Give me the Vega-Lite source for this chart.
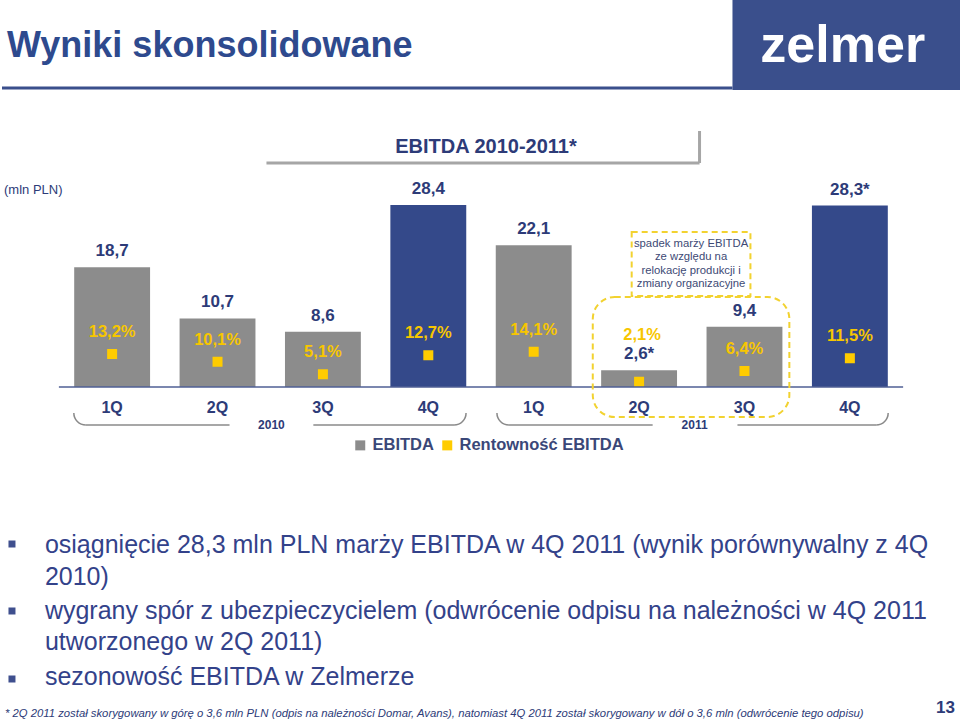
{
  "$schema": "https://vega.github.io/schema/vega-lite/v6.json",
  "width": 960,
  "height": 724,
  "autosize": {"type": "fit", "contains": "padding"},
  "padding": 0,
  "background": "white",
  "config": {"view": {"stroke": null}, "font": "Liberation Sans"},
  "data": {
    "values": [
      {"period": "1Q 2010", "year": "2010", "quarter": "1Q", "ebitda": 18.7, "margin": 0.132, "note": ""},
      {"period": "2Q 2010", "year": "2010", "quarter": "2Q", "ebitda": 10.7, "margin": 0.101, "note": ""},
      {"period": "3Q 2010", "year": "2010", "quarter": "3Q", "ebitda": 8.6, "margin": 0.051, "note": ""},
      {"period": "4Q 2010", "year": "2010", "quarter": "4Q", "ebitda": 28.4, "margin": 0.127, "note": ""},
      {"period": "1Q 2011", "year": "2011", "quarter": "1Q", "ebitda": 22.1, "margin": 0.141, "note": ""},
      {"period": "2Q 2011", "year": "2011", "quarter": "2Q", "ebitda": 2.6, "margin": 0.021, "note": "*"},
      {"period": "3Q 2011", "year": "2011", "quarter": "3Q", "ebitda": 9.4, "margin": 0.064, "note": ""},
      {"period": "4Q 2011", "year": "2011", "quarter": "4Q", "ebitda": 28.3, "margin": 0.115, "note": "*"}
    ]
  },
  "layer": [
    {
      "encoding": {
        "x": {"field": "period", "type": "nominal", "sort": null, "axis": null, "scale": {"type": "band", "paddingInner": 0.28, "paddingOuter": 0.685}}
      },
      "layer": [
        {
          "mark": {"type": "bar"},
          "encoding": {
            "y": {"field": "ebitda", "type": "quantitative", "axis": null, "scale": {"domain": [-52.574, 60.374], "nice": false, "zero": false}},
            "y2": {"datum": 0},
            "color": {
              "datum": "EBITDA",
              "condition": {"test": "datum.quarter === '4Q'", "value": "#34498a"},
              "scale": {"domain": ["EBITDA", "Rentowność EBITDA"], "range": ["#8c8c8c", "#ffcc00"]},
              "legend": {
                "orient": "none", "legendX": 350, "legendY": 437, "direction": "horizontal",
                "title": null, "symbolType": "square", "symbolSize": 100, "symbolStrokeWidth": 0, "symbolOpacity": 1,
                "labelFont": "Liberation Sans", "labelFontSize": 16.5, "labelFontWeight": "bold", "labelColor": "#3a4778",
                "labelOffset": 4, "labelLimit": 400, "columnPadding": 5, "padding": 0
              }
            }
          }
        },
        {
          "mark": {"type": "text", "baseline": "alphabetic", "align": "center", "dy": -11, "fontSize": 17, "fontWeight": "bold", "fill": "#2d3b78",
            "text": {"expr": "replace(format(datum.ebitda, '.1f'), '.', ',') + datum.note"}},
          "encoding": {"y": {"field": "ebitda", "type": "quantitative"}}
        },
        {
          "mark": {"type": "text", "baseline": "alphabetic", "align": "center", "dy": 26.5, "fontSize": 16, "fontWeight": "bold", "fill": "#2d3b78"},
          "encoding": {"y": {"datum": 0, "type": "quantitative"}, "text": {"field": "quarter"}}
        }
      ]
    },
    {
      "encoding": {
        "x": {"field": "period", "type": "nominal", "sort": null, "axis": null, "scale": {"type": "band", "paddingInner": 0.28, "paddingOuter": 0.685}},
        "y": {"field": "margin", "type": "quantitative", "axis": null, "scale": {"domain": [-1.348, 1.548], "nice": false, "zero": false}}
      },
      "layer": [
        {
          "mark": {"type": "point", "shape": "square", "filled": true, "size": 100, "opacity": 1, "strokeWidth": 0},
          "encoding": {"color": {"datum": "Rentowność EBITDA"}}
        },
        {
          "transform": [{"filter": "datum.period !== '2Q 2011'"}],
          "mark": {"type": "text", "baseline": "alphabetic", "align": "center", "dy": -17, "fontSize": 16.5, "fontWeight": "bold", "fill": "#f7c600",
            "text": {"expr": "replace(format(datum.margin * 100, '.1f'), '.', ',') + '%'"}}
        },
        {
          "transform": [{"filter": "datum.period === '2Q 2011'"}],
          "mark": {"type": "text", "baseline": "alphabetic", "align": "center", "dy": -42, "dx": 3, "fontSize": 16.5, "fontWeight": "bold", "fill": "#f7c600",
            "text": {"expr": "replace(format(datum.margin * 100, '.1f'), '.', ',') + '%'"}}
        }
      ]
    },
    {
      "data": {"values": [{}]},
      "layer": [
        {
          "mark": {"type": "rect", "fill": "#3a4f8c"},
          "encoding": {
            "x": {"datum": 6.8858, "type": "quantitative", "axis": null, "scale": {"domain": [-0.04536, 9.04469], "nice": false, "zero": false}},
            "x2": {"datum": 9.04469},
            "y": {"datum": 60.374, "type": "quantitative", "axis": null, "scale": {"domain": [-52.574, 60.374], "nice": false, "zero": false}},
            "y2": {"datum": 46.334}
          }
        },
        {
          "mark": {"type": "text", "text": "zelmer", "fill": "#ffffff", "font": "Liberation Sans", "fontSize": 52, "fontWeight": "bold", "align": "center", "baseline": "alphabetic"},
          "encoding": {"x": {"datum": 7.9321, "type": "quantitative"}, "y": {"datum": 50.702, "type": "quantitative"}}
        },
        {
          "mark": {"type": "text", "text": "Wyniki skonsolidowane", "fill": "#2e4a8e", "fontSize": 36, "fontWeight": "bold", "align": "left", "baseline": "alphabetic"},
          "encoding": {"x": {"datum": 0.002, "type": "quantitative"}, "y": {"datum": 51.482, "type": "quantitative"}}
        },
        {
          "mark": {"type": "rule", "stroke": "#3a4f8c", "strokeWidth": 3},
          "encoding": {"x": {"datum": -0.04536, "type": "quantitative"}, "x2": {"datum": 6.8858}, "y": {"datum": 46.646, "type": "quantitative"}}
        },
        {
          "mark": {"type": "text", "text": "EBITDA 2010-2011*", "fill": "#2d3b78", "fontSize": 20, "fontWeight": "bold", "align": "center", "baseline": "middle"},
          "encoding": {"x": {"datum": 4.547, "type": "quantitative"}, "y": {"datum": 37.441, "type": "quantitative"}}
        },
        {
          "mark": {"type": "rule", "stroke": "#a6a6a6", "strokeWidth": 3},
          "encoding": {"x": {"datum": 2.4639, "type": "quantitative"}, "x2": {"datum": 6.5733}, "y": {"datum": 34.945, "type": "quantitative"}}
        },
        {
          "mark": {"type": "rule", "stroke": "#a6a6a6", "strokeWidth": 3},
          "encoding": {"x": {"datum": 6.5733, "type": "quantitative"}, "y": {"datum": 39.938, "type": "quantitative"}, "y2": {"datum": 34.945}}
        },
        {
          "mark": {"type": "text", "text": "(mln PLN)", "fill": "#2d3b78", "fontSize": 13, "align": "left", "baseline": "middle"},
          "encoding": {"x": {"datum": -0.0264, "type": "quantitative"}, "y": {"datum": 30.733, "type": "quantitative"}}
        },
        {
          "mark": {"type": "rule", "stroke": "#4f5f94", "strokeWidth": 1.5},
          "encoding": {"x": {"datum": 0.4944, "type": "quantitative"}, "x2": {"datum": 8.505}, "y": {"datum": 0, "type": "quantitative"}}
        },
        {
          "mark": {"type": "text", "text": "2010", "fill": "#2d3b78", "fontSize": 12, "fontWeight": "bold", "align": "center", "baseline": "middle"},
          "encoding": {"x": {"datum": 2.5112, "type": "quantitative"}, "y": {"datum": -5.928, "type": "quantitative"}}
        },
        {
          "mark": {"type": "text", "text": "2011", "fill": "#2d3b78", "fontSize": 12, "fontWeight": "bold", "align": "center", "baseline": "middle"},
          "encoding": {"x": {"datum": 6.526, "type": "quantitative"}, "y": {"datum": -5.928, "type": "quantitative"}}
        },
        {
          "mark": {"type": "rule", "stroke": "#8a8a8a", "strokeWidth": 1.5},
          "encoding": {"x": {"datum": 0.75, "type": "quantitative"}, "x2": {"datum": 2.1135}, "y": {"datum": -5.928, "type": "quantitative"}}
        },
        {
          "mark": {"type": "rule", "stroke": "#8a8a8a", "strokeWidth": 1.5},
          "encoding": {"x": {"datum": 2.9089, "type": "quantitative"}, "x2": {"datum": 4.244}, "y": {"datum": -5.928, "type": "quantitative"}}
        },
        {
          "mark": {"type": "rule", "stroke": "#8a8a8a", "strokeWidth": 1.5},
          "encoding": {"x": {"datum": 4.7648, "type": "quantitative"}, "x2": {"datum": 6.1283}, "y": {"datum": -5.928, "type": "quantitative"}}
        },
        {
          "mark": {"type": "rule", "stroke": "#8a8a8a", "strokeWidth": 1.5},
          "encoding": {"x": {"datum": 6.9332, "type": "quantitative"}, "x2": {"datum": 8.2493}, "y": {"datum": -5.928, "type": "quantitative"}}
        },
        {
          "mark": {"type": "arc", "radius": 12.75, "radius2": 11.25, "theta": 3.1416, "theta2": 4.7124, "fill": "#8a8a8a"},
          "encoding": {"x": {"datum": 0.75, "type": "quantitative"}, "y": {"datum": -4.056, "type": "quantitative"}}
        },
        {
          "mark": {"type": "arc", "radius": 12.75, "radius2": 11.25, "theta": 1.5708, "theta2": 3.1416, "fill": "#8a8a8a"},
          "encoding": {"x": {"datum": 4.244, "type": "quantitative"}, "y": {"datum": -4.056, "type": "quantitative"}}
        },
        {
          "mark": {"type": "arc", "radius": 12.75, "radius2": 11.25, "theta": 3.1416, "theta2": 4.7124, "fill": "#8a8a8a"},
          "encoding": {"x": {"datum": 4.7648, "type": "quantitative"}, "y": {"datum": -4.056, "type": "quantitative"}}
        },
        {
          "mark": {"type": "arc", "radius": 12.75, "radius2": 11.25, "theta": 1.5708, "theta2": 3.1416, "fill": "#8a8a8a"},
          "encoding": {"x": {"datum": 8.2493, "type": "quantitative"}, "y": {"datum": -4.056, "type": "quantitative"}}
        },
        {
          "mark": {"type": "rect", "fill": null, "fillOpacity": 0, "stroke": "#f2d230", "strokeWidth": 2, "strokeDash": [6, 4]},
          "encoding": {"x": {"datum": 5.9294, "type": "quantitative"}, "x2": {"datum": 7.0562}, "y": {"datum": 24.181, "type": "quantitative"}, "y2": {"datum": 14.197}}
        },
        {
          "mark": {"type": "rect", "fill": null, "fillOpacity": 0, "stroke": "#f2d230", "strokeWidth": 2, "strokeDash": [6, 4], "cornerRadius": 22},
          "encoding": {"x": {"datum": 5.5602, "type": "quantitative"}, "x2": {"datum": 7.4255}, "y": {"datum": 14.041, "type": "quantitative"}, "y2": {"datum": -4.68}}
        },
        {
          "mark": {"type": "text", "text": ["spadek marży EBITDA", "ze względu na", "relokację produkcji i", "zmiany organizacyjne"], "fill": "#3d4a75", "fontSize": 11.3, "align": "center", "baseline": "middle", "lineHeight": 13.3},
          "encoding": {"x": {"datum": 6.4928, "type": "quantitative"}, "y": {"datum": 22.309, "type": "quantitative"}}
        },
        {
          "mark": {"type": "point", "shape": "square", "filled": true, "size": 49, "fill": "#3f4f8e", "opacity": 1, "strokeWidth": 0},
          "encoding": {"x": {"datum": 0.0493, "type": "quantitative"}, "y": {"datum": -24.493, "type": "quantitative"}}
        },
        {
          "mark": {"type": "point", "shape": "square", "filled": true, "size": 49, "fill": "#3f4f8e", "opacity": 1, "strokeWidth": 0},
          "encoding": {"x": {"datum": 0.0493, "type": "quantitative"}, "y": {"datum": -34.945, "type": "quantitative"}}
        },
        {
          "mark": {"type": "point", "shape": "square", "filled": true, "size": 49, "fill": "#3f4f8e", "opacity": 1, "strokeWidth": 0},
          "encoding": {"x": {"datum": 0.0493, "type": "quantitative"}, "y": {"datum": -45.554, "type": "quantitative"}}
        },
        {
          "mark": {"type": "text", "text": "osiągnięcie 28,3 mln PLN marży EBITDA w 4Q 2011 (wynik porównywalny z 4Q", "fill": "#33428a", "fontSize": 25, "align": "left", "baseline": "alphabetic"},
          "encoding": {"x": {"datum": 0.3618, "type": "quantitative"}, "y": {"datum": -25.897, "type": "quantitative"}}
        },
        {
          "mark": {"type": "text", "text": "2010)", "fill": "#33428a", "fontSize": 25, "align": "left", "baseline": "alphabetic"},
          "encoding": {"x": {"datum": 0.3618, "type": "quantitative"}, "y": {"datum": -30.889, "type": "quantitative"}}
        },
        {
          "mark": {"type": "text", "text": "wygrany spór z ubezpieczycielem (odwrócenie odpisu na należności w 4Q 2011", "fill": "#33428a", "fontSize": 25, "align": "left", "baseline": "alphabetic"},
          "encoding": {"x": {"datum": 0.3618, "type": "quantitative"}, "y": {"datum": -36.193, "type": "quantitative"}}
        },
        {
          "mark": {"type": "text", "text": "utworzonego w 2Q 2011)", "fill": "#33428a", "fontSize": 25, "align": "left", "baseline": "alphabetic"},
          "encoding": {"x": {"datum": 0.3618, "type": "quantitative"}, "y": {"datum": -41.03, "type": "quantitative"}}
        },
        {
          "mark": {"type": "text", "text": "sezonowość EBITDA w Zelmerze", "fill": "#33428a", "fontSize": 25, "align": "left", "baseline": "alphabetic"},
          "encoding": {"x": {"datum": 0.3618, "type": "quantitative"}, "y": {"datum": -46.49, "type": "quantitative"}}
        },
        {
          "mark": {"type": "text", "text": "* 2Q 2011 został skorygowany w górę o 3,6 mln PLN (odpis na należności Domar, Avans), natomiast 4Q 2011 został skorygowany w dół o 3,6 mln (odwrócenie tego odpisu)", "fill": "#2d3b78", "fontSize": 11.3, "fontStyle": "italic", "align": "left", "baseline": "alphabetic"},
          "encoding": {"x": {"datum": -0.0169, "type": "quantitative"}, "y": {"datum": -51.482, "type": "quantitative"}}
        },
        {
          "mark": {"type": "text", "text": "13", "fill": "#2d3b78", "fontSize": 17, "fontWeight": "bold", "align": "right", "baseline": "alphabetic"},
          "encoding": {"x": {"datum": 8.9974, "type": "quantitative"}, "y": {"datum": -50.858, "type": "quantitative"}}
        }
      ]
    }
  ],
  "resolve": {"scale": {"x": "independent", "y": "independent"}}
}
